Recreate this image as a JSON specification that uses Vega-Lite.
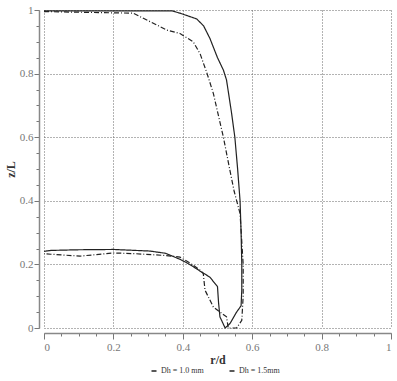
{
  "$schema": "https://vega.github.io/schema/vega-lite/v6.json",
  "width": 347,
  "height": 318,
  "autosize": {"type": "none"},
  "padding": {"left": 44, "top": 10, "right": 6, "bottom": 53},
  "background": "white",
  "config": {
    "view": {"stroke": null},
    "font": "Liberation Serif",
    "mark": {"color": "#222"},
    "legend": {"symbolStrokeColor": "#222", "labelColor": "#333"}
  },
  "data": {
    "values": [
      {"s": "Dh = 1.0 mm", "o": 1, "r": 0.0, "z": 0.997},
      {"s": "Dh = 1.0 mm", "o": 2, "r": 0.37, "z": 0.997},
      {"s": "Dh = 1.0 mm", "o": 3, "r": 0.392, "z": 0.99},
      {"s": "Dh = 1.0 mm", "o": 4, "r": 0.44, "z": 0.972},
      {"s": "Dh = 1.0 mm", "o": 5, "r": 0.46, "z": 0.95},
      {"s": "Dh = 1.0 mm", "o": 6, "r": 0.478, "z": 0.911},
      {"s": "Dh = 1.0 mm", "o": 7, "r": 0.5, "z": 0.85},
      {"s": "Dh = 1.0 mm", "o": 8, "r": 0.517, "z": 0.811},
      {"s": "Dh = 1.0 mm", "o": 9, "r": 0.526, "z": 0.78},
      {"s": "Dh = 1.0 mm", "o": 10, "r": 0.54, "z": 0.68},
      {"s": "Dh = 1.0 mm", "o": 11, "r": 0.55, "z": 0.6},
      {"s": "Dh = 1.0 mm", "o": 12, "r": 0.558, "z": 0.5},
      {"s": "Dh = 1.0 mm", "o": 13, "r": 0.565, "z": 0.4},
      {"s": "Dh = 1.0 mm", "o": 14, "r": 0.568, "z": 0.3},
      {"s": "Dh = 1.0 mm", "o": 15, "r": 0.57, "z": 0.2},
      {"s": "Dh = 1.0 mm", "o": 16, "r": 0.57, "z": 0.12},
      {"s": "Dh = 1.0 mm", "o": 17, "r": 0.568, "z": 0.07},
      {"s": "Dh = 1.0 mm", "o": 18, "r": 0.555, "z": 0.05},
      {"s": "Dh = 1.0 mm", "o": 19, "r": 0.536, "z": 0.014},
      {"s": "Dh = 1.0 mm", "o": 20, "r": 0.522, "z": 0.0},
      {"s": "Dh = 1.0 mm", "o": 21, "r": 0.507, "z": 0.035},
      {"s": "Dh = 1.0 mm", "o": 22, "r": 0.503, "z": 0.08},
      {"s": "Dh = 1.0 mm", "o": 23, "r": 0.5, "z": 0.13},
      {"s": "Dh = 1.0 mm", "o": 24, "r": 0.478, "z": 0.16},
      {"s": "Dh = 1.0 mm", "o": 25, "r": 0.454, "z": 0.176},
      {"s": "Dh = 1.0 mm", "o": 26, "r": 0.42, "z": 0.2},
      {"s": "Dh = 1.0 mm", "o": 27, "r": 0.392, "z": 0.216},
      {"s": "Dh = 1.0 mm", "o": 28, "r": 0.35, "z": 0.235},
      {"s": "Dh = 1.0 mm", "o": 29, "r": 0.305, "z": 0.242},
      {"s": "Dh = 1.0 mm", "o": 30, "r": 0.2, "z": 0.247},
      {"s": "Dh = 1.0 mm", "o": 31, "r": 0.1, "z": 0.246},
      {"s": "Dh = 1.0 mm", "o": 32, "r": 0.02, "z": 0.244},
      {"s": "Dh = 1.0 mm", "o": 33, "r": 0.0, "z": 0.241},
      {"s": "Dh = 1.5mm", "o": 1, "r": 0.0, "z": 0.995},
      {"s": "Dh = 1.5mm", "o": 2, "r": 0.257, "z": 0.99},
      {"s": "Dh = 1.5mm", "o": 3, "r": 0.354, "z": 0.937},
      {"s": "Dh = 1.5mm", "o": 4, "r": 0.392, "z": 0.926},
      {"s": "Dh = 1.5mm", "o": 5, "r": 0.43, "z": 0.9},
      {"s": "Dh = 1.5mm", "o": 6, "r": 0.45, "z": 0.862},
      {"s": "Dh = 1.5mm", "o": 7, "r": 0.47, "z": 0.8},
      {"s": "Dh = 1.5mm", "o": 8, "r": 0.488, "z": 0.738},
      {"s": "Dh = 1.5mm", "o": 9, "r": 0.517, "z": 0.6},
      {"s": "Dh = 1.5mm", "o": 10, "r": 0.535, "z": 0.5},
      {"s": "Dh = 1.5mm", "o": 11, "r": 0.548, "z": 0.43},
      {"s": "Dh = 1.5mm", "o": 12, "r": 0.565, "z": 0.36},
      {"s": "Dh = 1.5mm", "o": 13, "r": 0.574, "z": 0.2},
      {"s": "Dh = 1.5mm", "o": 14, "r": 0.574, "z": 0.1},
      {"s": "Dh = 1.5mm", "o": 15, "r": 0.57, "z": 0.024},
      {"s": "Dh = 1.5mm", "o": 16, "r": 0.555, "z": 0.0},
      {"s": "Dh = 1.5mm", "o": 17, "r": 0.531, "z": 0.0},
      {"s": "Dh = 1.5mm", "o": 18, "r": 0.526, "z": 0.035},
      {"s": "Dh = 1.5mm", "o": 19, "r": 0.488, "z": 0.066},
      {"s": "Dh = 1.5mm", "o": 20, "r": 0.464, "z": 0.119},
      {"s": "Dh = 1.5mm", "o": 21, "r": 0.459, "z": 0.171},
      {"s": "Dh = 1.5mm", "o": 22, "r": 0.45, "z": 0.182},
      {"s": "Dh = 1.5mm", "o": 23, "r": 0.42, "z": 0.205},
      {"s": "Dh = 1.5mm", "o": 24, "r": 0.392, "z": 0.223},
      {"s": "Dh = 1.5mm", "o": 25, "r": 0.35, "z": 0.228},
      {"s": "Dh = 1.5mm", "o": 26, "r": 0.257, "z": 0.234},
      {"s": "Dh = 1.5mm", "o": 27, "r": 0.2, "z": 0.236},
      {"s": "Dh = 1.5mm", "o": 28, "r": 0.104, "z": 0.226},
      {"s": "Dh = 1.5mm", "o": 29, "r": 0.02, "z": 0.232},
      {"s": "Dh = 1.5mm", "o": 30, "r": 0.0, "z": 0.234}
    ]
  },
  "layer": [
    {
      "mark": {"type": "point", "opacity": 0},
      "encoding": {
        "x": {
          "field": "r", "type": "quantitative",
          "scale": {"domain": [0, 1], "nice": false, "zero": false},
          "axis": {
            "orient": "bottom", "offset": 5,
            "values": [0, 0.05, 0.1, 0.15, 0.2, 0.25, 0.3, 0.35, 0.4, 0.45, 0.5, 0.55, 0.6, 0.65, 0.7, 0.75, 0.8, 0.85, 0.9, 0.95, 1],
            "labels": false, "domain": false, "grid": false, "title": null,
            "tickSize": 3, "tickColor": "#777", "tickWidth": 1
          }
        },
        "y": {
          "field": "z", "type": "quantitative",
          "scale": {"domain": [0, 1], "nice": false, "zero": false},
          "axis": {
            "orient": "left", "offset": 5,
            "values": [0, 0.05, 0.1, 0.15, 0.2, 0.25, 0.3, 0.35, 0.4, 0.45, 0.5, 0.55, 0.6, 0.65, 0.7, 0.75, 0.8, 0.85, 0.9, 0.95, 1],
            "labels": false, "domain": false, "grid": false, "title": null,
            "tickSize": 3, "tickColor": "#777", "tickWidth": 1
          }
        }
      }
    },
    {
      "mark": {"type": "line", "strokeWidth": 1.2},
      "encoding": {
        "x": {
          "field": "r", "type": "quantitative",
          "scale": {"domain": [0, 1], "nice": false, "zero": false},
          "axis": {
            "orient": "bottom", "offset": 5,
            "values": [0, 0.2, 0.4, 0.6, 0.8, 1],
            "grid": true, "gridDash": [1, 2], "gridColor": "#666", "gridWidth": 1, "gridOpacity": 1,
            "domain": true, "domainColor": "#888", "domainWidth": 1.5,
            "tickSize": 6, "tickColor": "#777", "tickWidth": 1,
            "labelFont": "Liberation Serif", "labelFontSize": 11, "labelColor": "#777", "labelPadding": 2,
            "format": "~g",
            "title": "r/d", "titleFont": "Liberation Serif", "titleFontSize": 12, "titleFontWeight": "bold", "titleColor": "#333", "titlePadding": 2
          }
        },
        "y": {
          "field": "z", "type": "quantitative",
          "scale": {"domain": [0, 1], "nice": false, "zero": false},
          "axis": {
            "orient": "left", "offset": 5,
            "values": [0, 0.2, 0.4, 0.6, 0.8, 1],
            "grid": true, "gridDash": [1, 2], "gridColor": "#666", "gridWidth": 1, "gridOpacity": 1,
            "domain": true, "domainColor": "#888", "domainWidth": 1.5,
            "tickSize": 5, "tickColor": "#777", "tickWidth": 1,
            "labelFont": "Liberation Serif", "labelFontSize": 11, "labelColor": "#777", "labelPadding": 1,
            "format": "~g",
            "title": "z/L", "titleFont": "Liberation Serif", "titleFontSize": 12, "titleFontWeight": "bold", "titleColor": "#333", "titlePadding": 2
          }
        },
        "order": {"field": "o", "type": "quantitative"},
        "stroke": {"value": "#222"},
        "strokeDash": {
          "field": "s", "type": "nominal",
          "scale": {"domain": ["Dh = 1.0 mm", "Dh = 1.5mm"], "range": [[1, 0], [5, 2, 1, 2]]},
          "legend": {
            "orient": "none", "legendX": 106, "legendY": 357, "direction": "horizontal",
            "title": null, "symbolType": "stroke", "symbolSize": 25, "symbolStrokeWidth": 1.5,
            "symbolStrokeColor": "#222",
            "labelFont": "Liberation Serif", "labelFontSize": 8, "labelColor": "#333", "labelOffset": 3,
            "columnPadding": 22
          }
        }
      }
    }
  ],
  "resolve": {"axis": {"x": "independent", "y": "independent"}}
}
